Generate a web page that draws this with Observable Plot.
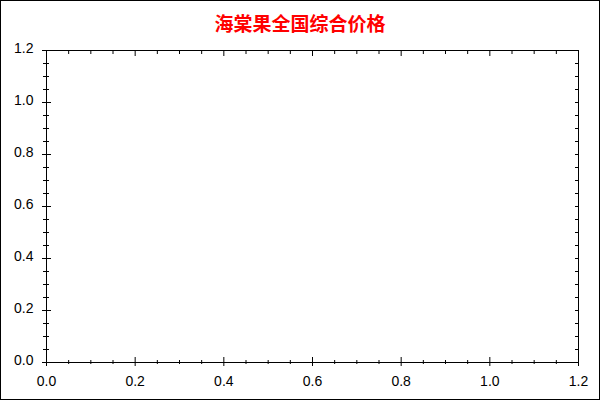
<!DOCTYPE html>
<html>
<head>
<meta charset="utf-8">
<script src="https://cdn.jsdelivr.net/npm/d3@7"></script>
<script src="https://cdn.jsdelivr.net/npm/@observablehq/plot@0.6"></script>
<style>
  html, body { margin: 0; padding: 0; background: #fff; }
  #wrap { position: relative; width: 600px; height: 400px; overflow: hidden; }
  #border { position: absolute; left: 0; top: 0; width: 600px; height: 400px; box-sizing: border-box; border: 1px solid #000; pointer-events: none; }
  #title { position: absolute; left: 0; top: 13px; width: 600px; text-align: center; font-family: "Noto Sans CJK SC", sans-serif; font-weight: bold; font-size: 19px; line-height: 20px; color: #ff0000; }
  #chart { position: absolute; left: 0; top: 0; }
</style>
</head>
<body>
<div id="wrap">
  <div id="chart"></div>
  <div id="title">海棠果全国综合价格</div>
  <div id="border"></div>
</div>
<script>
// Chart has no data series; only axes from 0 to 1.2
const titleText = "海棠果全国综合价格";
const xDomain = [0, 1.2];
const yDomain = [0, 1.2];
const majorTicks = [0, 0.2, 0.4, 0.6, 0.8, 1.0, 1.2];
const minorTicks = [0.05, 0.1, 0.15, 0.25, 0.3, 0.35, 0.45, 0.5, 0.55, 0.65, 0.7, 0.75, 0.85, 0.9, 0.95, 1.05, 1.1, 1.15];

const fmt = d3.format(".1f");
const font = "'Liberation Sans', Arial, sans-serif";

const chart = Plot.plot({
  width: 600,
  height: 400,
  marginLeft: 46,
  marginRight: 22,
  marginTop: 50,
  marginBottom: 38,
  style: { fontFamily: font, fontSize: "14px", color: "#000", background: "transparent" },
  x: { domain: xDomain, label: null },
  y: { domain: yDomain, label: null },
  marks: [
    Plot.frame({ stroke: "#000" }),
    // left axis ticks (crossing)
    Plot.axisY(majorTicks, { anchor: "left", tickSize: 9, dx: 5, fill: "none", stroke: "#000" }),
    Plot.axisY(minorTicks, { anchor: "left", tickSize: 6, dx: 3, fill: "none", stroke: "#000" }),
    // right axis ticks (inward)
    Plot.axisY(majorTicks, { anchor: "right", tickSize: 4, dx: -4, fill: "none", stroke: "#000" }),
    Plot.axisY(minorTicks, { anchor: "right", tickSize: 4, dx: -4, fill: "none", stroke: "#000" }),
    // bottom axis ticks (crossing)
    Plot.axisX(majorTicks, { anchor: "bottom", tickSize: 9, dy: -5, fill: "none", stroke: "#000" }),
    Plot.axisX(minorTicks, { anchor: "bottom", tickSize: 4, dy: -2, fill: "none", stroke: "#000" }),
    // top axis ticks (inward)
    Plot.axisX(majorTicks, { anchor: "top", tickSize: 5, dy: 5, fill: "none", stroke: "#000" }),
    Plot.axisX(minorTicks, { anchor: "top", tickSize: 3, dy: 3, fill: "none", stroke: "#000" }),
    // labels
    Plot.axisY(majorTicks, { anchor: "left", tickSize: 0, tickPadding: 13, dy: -2, tickFormat: fmt, fontSize: 14, stroke: "none", fill: "#000", label: null }),
    Plot.axisX(majorTicks, { anchor: "bottom", tickSize: 0, tickPadding: 14, tickFormat: fmt, fontSize: 14, stroke: "none", fill: "#000", label: null })
  ]
});
document.getElementById("chart").appendChild(chart);
document.getElementById("title").textContent = titleText;
</script>
</body>
</html>
